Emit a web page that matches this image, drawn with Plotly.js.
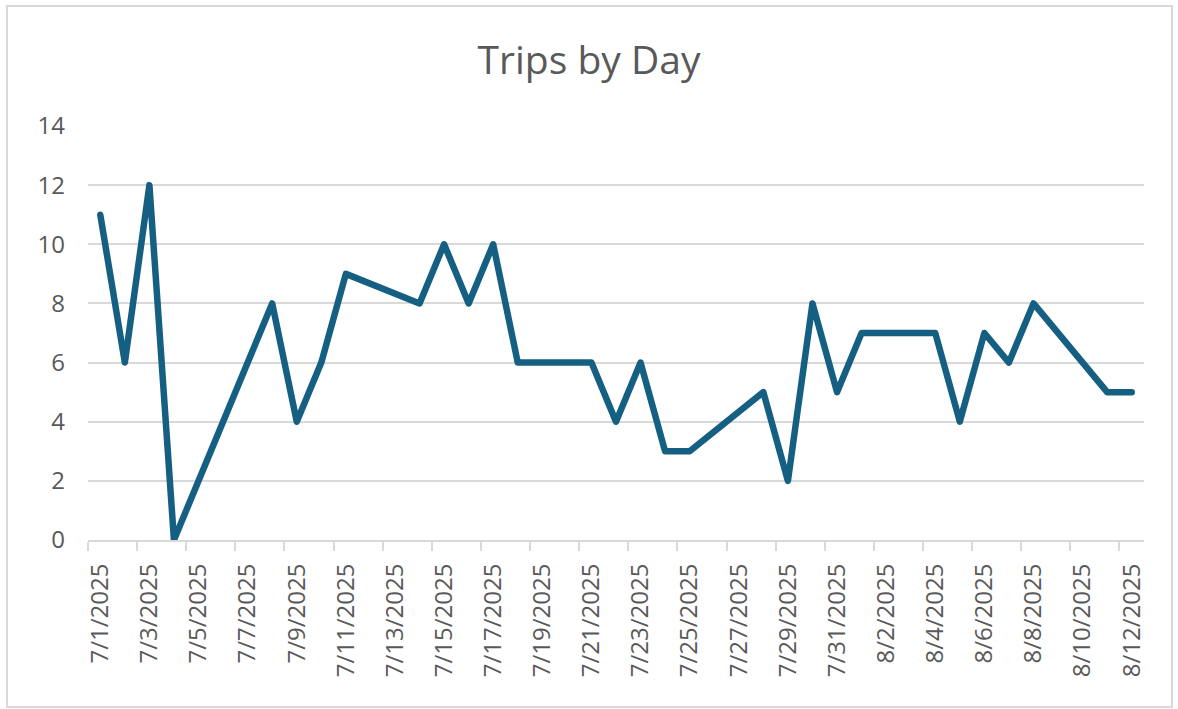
<!DOCTYPE html>
<html>
<head>
<meta charset="utf-8">
<script src="https://cdn.plot.ly/plotly-3.0.1.min.js"></script>
<style>
  html, body { margin: 0; padding: 0; background: #ffffff; }
  #wrap { position: relative; width: 1178px; height: 709px; }
  #chart { position: absolute; left: 0; top: 0; width: 1178px; height: 709px; }
  #frame { position: absolute; left: 6px; top: 5px; width: 1163px; height: 699px;
           border: 2px solid #d9d9d9; pointer-events: none; }
  #chart .scatterlayer path.js-line { stroke-linejoin: round !important; stroke-linecap: round !important; }
</style>
</head>
<body>
<div id="wrap">
  <div id="chart"></div>
  <div id="frame"></div>
</div>
<script>
// ---- data ----
const tripDates = [
  '2025-07-01','2025-07-02','2025-07-03','2025-07-04','2025-07-08','2025-07-09',
  '2025-07-10','2025-07-11','2025-07-14','2025-07-15','2025-07-16','2025-07-17',
  '2025-07-18','2025-07-21','2025-07-22','2025-07-23','2025-07-24','2025-07-25',
  '2025-07-28','2025-07-29','2025-07-30','2025-07-31','2025-08-01','2025-08-04',
  '2025-08-05','2025-08-06','2025-08-07','2025-08-08','2025-08-11','2025-08-12'
];
const trips = [
  11, 6, 12, 0, 8, 4,
  6, 9, 8, 10, 8, 10,
  6, 6, 4, 6, 3, 3,
  5, 2, 8, 5, 7, 7,
  4, 7, 6, 8, 5, 5
];
const tickDates = [
  '2025-07-01','2025-07-03','2025-07-05','2025-07-07','2025-07-09','2025-07-11',
  '2025-07-13','2025-07-15','2025-07-17','2025-07-19','2025-07-21','2025-07-23',
  '2025-07-25','2025-07-27','2025-07-29','2025-07-31','2025-08-02','2025-08-04',
  '2025-08-06','2025-08-08','2025-08-10','2025-08-12'
];
const tickLabels = [
  '7/1/2025','7/3/2025','7/5/2025','7/7/2025','7/9/2025','7/11/2025',
  '7/13/2025','7/15/2025','7/17/2025','7/19/2025','7/21/2025','7/23/2025',
  '7/25/2025','7/27/2025','7/29/2025','7/31/2025','8/2/2025','8/4/2025',
  '8/6/2025','8/8/2025','8/10/2025','8/12/2025'
];
const yTicks = [0, 2, 4, 6, 8, 10, 12, 14];
const chartTitle = 'Trips by Day';

// ---- styling ----
const FONT = '"Open Sans", "Liberation Sans", sans-serif';
const TEXT = '#595959';
const GRID = '#d9d9d9';
const LINE = '#156082';
const DAY = 86400000;

const trace = {
  type: 'scatter',
  mode: 'lines',
  x: tripDates,
  y: trips,
  line: { color: LINE, width: 6.5, shape: 'linear' },
  hoverinfo: 'x+y'
};

const layout = {
  width: 1178,
  height: 709,
  paper_bgcolor: '#ffffff',
  plot_bgcolor: '#ffffff',
  margin: { l: 88, r: 34, t: 126, b: 169, pad: 0 },
  showlegend: false,
  title: {
    text: chartTitle,
    font: { family: FONT, size: 39, color: TEXT },
    x: 0.5, xref: 'container', xanchor: 'center',
    y: 1 - 60 / 709, yref: 'container', yanchor: 'middle'
  },
  font: { family: FONT, color: TEXT },
  xaxis: {
    type: 'date',
    range: ['2025-06-30 12:00', '2025-08-12 12:00'],
    tickmode: 'array',
    tickvals: tickDates,
    ticktext: tickLabels,
    tickangle: -90,
    ticks: '',
    ticklabelstandoff: 12,
    tickfont: { family: FONT, size: 24, color: TEXT },
    showgrid: false,
    zeroline: false,
    showline: true,
    linecolor: GRID,
    linewidth: 2,
    layer: 'below traces',
    minor: {
      ticks: 'outside',
      ticklen: 9,
      tickwidth: 2,
      tickcolor: GRID,
      tick0: '2025-06-30 12:00',
      dtick: 2 * DAY,
      showgrid: false
    },
    fixedrange: true
  },
  yaxis: {
    range: [0, 14],
    tickmode: 'array',
    tickvals: yTicks,
    ticks: '',
    ticklabelstandoff: 22,
    tickfont: { family: FONT, size: 24, color: TEXT },
    showgrid: true,
    gridcolor: GRID,
    gridwidth: 2,
    zeroline: false,
    showline: false,
    layer: 'below traces',
    fixedrange: true
  }
};

Plotly.newPlot('chart', [trace], layout, { displayModeBar: false, staticPlot: true });
</script>
</body>
</html>
